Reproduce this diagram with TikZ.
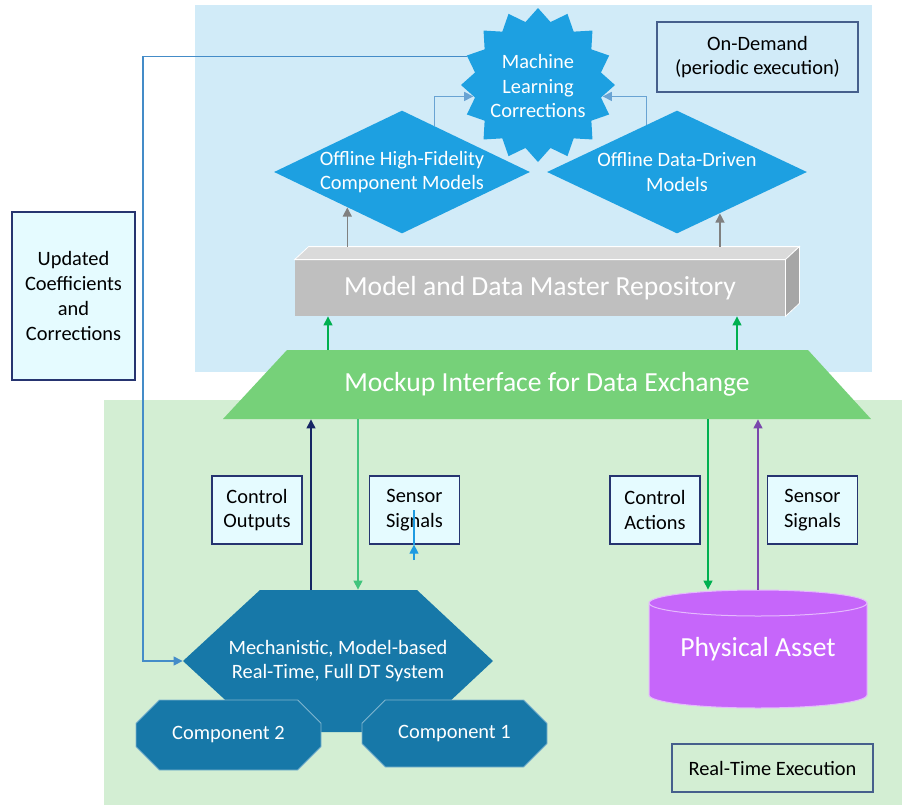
\documentclass[tikz,border=0pt]{standalone}
\usepackage{fontspec}
\setmainfont{Carlito}
\usetikzlibrary{positioning,shapes.geometric,shapes.misc,arrows.meta}

\definecolor{demandbg}{RGB}{209,235,248}
\definecolor{realtimebg}{RGB}{211,238,211}
\definecolor{mlblue}{RGB}{29,160,225}
\definecolor{dtblue}{RGB}{23,120,168}
\definecolor{mockgreen}{RGB}{118,209,121}
\definecolor{assetpurple}{RGB}{198,102,250}
\definecolor{repofront}{RGB}{191,191,191}
\definecolor{repotop}{RGB}{218,218,218}
\definecolor{reposide}{RGB}{166,166,166}
\definecolor{notefill}{RGB}{229,251,255}
\definecolor{noteborder}{RGB}{38,52,112}
\definecolor{tagborder}{RGB}{70,95,140}
\definecolor{feedblue}{RGB}{68,140,200}
\definecolor{navyline}{RGB}{22,38,100}
\definecolor{flowgreen}{RGB}{0,176,80}
\definecolor{sigpurple}{RGB}{122,72,172}
\definecolor{sigblue}{RGB}{30,155,225}

\begin{document}
\begin{tikzpicture}[x=0.5pt, y=-0.5pt,
    every node/.style={font=\fontsize{10.2}{12.4}\selectfont},
    bigtext/.style={font=\fontsize{13.8}{16}\selectfont, text=white},
    whitetext/.style={text=white, align=center},
    notebox/.style={draw=noteborder, fill=notefill, align=center, inner sep=0pt, line width=0.6pt, minimum width=45pt, minimum height=34pt},
    tagbox/.style={draw=tagborder, align=center, inner sep=0pt, line width=0.6pt, minimum width=100.5pt},
    offline/.style={diamond, fill=mlblue, inner sep=0pt, minimum width=128pt, minimum height=61.5pt},
    dtpart/.style={chamfered rectangle, fill=dtblue, draw=white!45!dtblue, line width=0.4pt, inner sep=0pt, text=white},
    assetcap/.style={x radius=54.5pt, y radius=6.5pt},
    link/.style={-{Triangle[length=4.5pt, width=4.5pt]}, line width=0.6pt},
  ]
  \useasboundingbox (0,0) rectangle (902,805);

  % Execution regions
  \fill[demandbg] (195,5) rectangle (872,372);
  \fill[realtimebg] (104,400) rectangle (902,805);

  % On-demand part
  \node[star, star points=16, star point ratio=1.2, fill=mlblue, inner sep=0pt, minimum size=77pt] (ml) at (538,85) {};
  \node[whitetext] (ml-text) at (538,86) {Machine\\Learning\\Corrections};
  \node[offline] (hifi) at (402,172) {};
  \node[whitetext] (hifi-text) at (402,172) {Offline High-Fidelity\\Component Models};
  \node[offline, minimum width=130pt] (datadriven) at (677,172) {};
  \node[whitetext] (datadriven-text) at (677,172) {Offline Data-Driven\\Models};
  \node[tagbox, minimum height=35pt] (ondemand) at (757.5,57) {On-Demand\\(periodic execution)};

  \node[fill=repofront, bigtext, minimum width=245pt, minimum height=28pt, inner sep=0pt] (repo) at (540,288) {Model and Data Master Repository};
  \fill[repotop, draw=white, line width=0.4pt] (repo.north west) -- ++(14,-13) -- ([shift={(14,-13)}]repo.north east) -- (repo.north east) -- cycle;
  \fill[reposide, draw=white, line width=0.4pt] (repo.north east) -- ++(14,-13) -- ([shift={(14,-13)}]repo.south east) -- (repo.south east) -- cycle;
  \coordinate (repo-back) at ([yshift=6.5pt]repo.north);

  % Interface between both parts
  \fill[mockgreen] (223,419) -- (287,350) -- (808,350) -- (871,419) -- cycle;
  \node[bigtext, minimum width=324pt, minimum height=34.5pt, inner sep=0pt] (mock) at (547,384.5) {Mockup Interface for Data Exchange};

  % Real-time part
  \fill[dtblue] (183,661) -- (260,590) -- (417,590) -- (493,661) -- (417,732) -- (260,732) -- cycle;
  \node[whitetext, minimum width=155pt, minimum height=71pt, inner sep=0pt] (mech) at (338,661) {Mechanistic, Model-based\\Real-Time, Full DT System};
  \node[dtpart, chamfered rectangle xsep=7.5pt, chamfered rectangle ysep=7.5pt, minimum width=92.5pt, minimum height=35pt] (comp2) at (228.5,735) {Component 2};
  \node[dtpart, chamfered rectangle xsep=7.5pt, chamfered rectangle ysep=7.5pt, minimum width=92.5pt, minimum height=33.5pt] (comp1) at (454.5,733.5) {Component 1};

  \fill[assetpurple, draw=white!55!assetpurple, line width=0.5pt] (649,603) -- (649,695) arc[start angle=180, end angle=360, assetcap] -- (867,603) arc[start angle=0, end angle=180, assetcap] -- cycle;
  \draw[white!55!assetpurple, line width=0.5pt] (649,603) arc[start angle=180, end angle=360, assetcap];
  \node[bigtext, minimum width=109pt, minimum height=59pt, inner sep=0pt] (asset) at (758,649) {Physical Asset};

  \node[notebox, minimum width=61.5pt, minimum height=84pt] (updated) at (73.5,296) {Updated\\Coefficients\\and\\Corrections};
  \node[notebox] (ctrl-out) at (257,510) {Control\\Outputs};
  \node[notebox] (sens-in) at (414.5,510) {Sensor\\Signals};
  \node[notebox] (ctrl-act) at (655,510) {Control\\Actions};
  \node[notebox] (sens-out) at (812.5,510) {Sensor\\Signals};
  \node[tagbox, minimum height=24pt] (realtime) at (772.5,768) {Real-Time Execution};

  % Lanes and bends
  \coordinate (lane-a) at (311,0);
  \coordinate (lane-b) at (358,0);
  \coordinate (lane-c) at (708,0);
  \coordinate (lane-e) at (328,0);
  \coordinate (lane-f) at (737,0);
  \coordinate (feedback-bend) at (143,400);
  \coordinate (sens-tail) at (414,560);
  \coordinate (sens-head) at (414,510);

  % Arrows
  \draw[link, feedblue] (ml.158) -| (feedback-bend) |- (mech.west);
  \draw[link, feedblue!80!white] (hifi.55) |- (ml.190);
  \draw[link, feedblue!80!white] (datadriven.123) |- (ml.350);
  \draw[link, gray] (repo-back -| hifi.213) -- (hifi.213);
  \draw[link, gray] (repo-back -| datadriven.316) -- (datadriven.316);
  \draw[link, flowgreen] (mock.north -| lane-e) -- (repo.south -| lane-e);
  \draw[link, flowgreen] (mock.north -| lane-f) -- (repo.south -| lane-f);
  \draw[link, navyline] (mech.north -| lane-a) -- (mock.south -| lane-a);
  \draw[link, flowgreen!75!white] (mock.south -| lane-b) -- (mech.north -| lane-b);
  \draw[link, flowgreen] (mock.south -| lane-c) -- (asset.north -| lane-c);
  \draw[link, sigpurple] (asset.north) -- (mock.south -| asset.north);
  \draw[link, sigblue] (sens-tail) -- (sens-in.south -| sens-tail);
  \draw[sigblue, line width=0.6pt] (sens-in.south -| sens-tail) -- (sens-head);
\end{tikzpicture}
\end{document}
